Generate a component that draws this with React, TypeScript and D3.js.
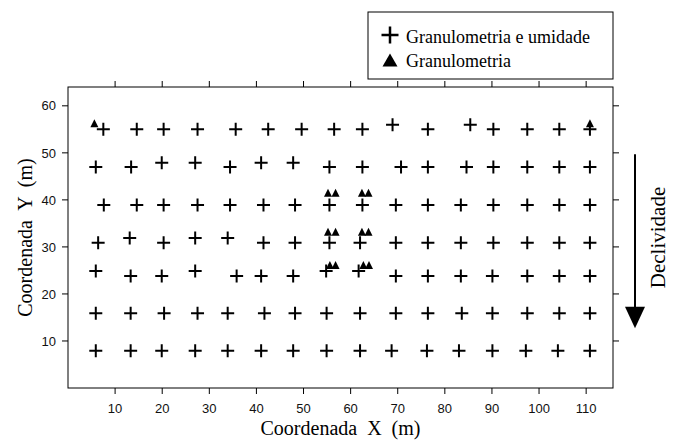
import React from "react";
import * as d3 from "d3";

// Data: points sampled for "Granulometria e umidade" (crosses)
const crossX: number[] = [
  7.5, 14.6, 20.3, 27.5, 35.6, 42.5, 49.6, 56.5, 62.5, 68.9, 76.4, 85.4, 90.3, 97.5, 104.3, 110.8,
  5.9, 13.4, 19.9, 27.0, 34.4, 41.0, 47.8, 55.5, 62.5, 70.7, 76.4, 84.6, 90.3, 97.5, 104.3, 110.8,
  7.6, 14.6, 20.3, 27.5, 34.4, 41.5, 48.2, 55.5, 62.5, 69.6, 76.4, 83.4, 90.3, 97.5, 104.3, 110.8,
  6.4, 13.1, 20.3, 27.0, 33.9, 41.5, 48.2, 55.5, 62.0, 69.6, 76.4, 83.4, 90.3, 97.5, 104.3, 110.8,
  5.9, 13.3, 19.9, 27.0, 35.8, 41.0, 47.8, 54.8, 61.7, 69.6, 76.4, 83.4, 90.1, 97.5, 104.3, 110.8,
  5.9, 13.3, 20.4, 27.5, 33.9, 41.7, 48.2, 54.9, 62.0, 69.6, 76.4, 83.6, 90.1, 97.5, 104.3, 110.8,
  5.9, 13.3, 19.9, 27.0, 33.9, 41.0, 47.8, 54.9, 62.0, 68.7, 76.2, 83.0, 90.1, 97.2, 104.0, 110.8,
];
const crossY: number[] = [
  55.0, 55.0, 55.0, 55.0, 55.0, 55.0, 55.0, 55.0, 55.0, 56.0, 55.0, 56.0, 55.0, 55.0, 55.0, 55.0,
  47.0, 47.0, 47.9, 47.9, 47.0, 47.9, 47.9, 47.0, 47.0, 47.0, 47.0, 47.0, 47.0, 47.0, 47.0, 47.0,
  38.9, 38.9, 38.9, 38.9, 38.9, 38.9, 38.9, 38.9, 38.9, 38.9, 38.9, 38.9, 38.9, 38.9, 38.9, 38.9,
  30.9, 31.9, 30.9, 31.9, 31.9, 30.9, 30.9, 30.9, 30.9, 30.9, 30.9, 30.9, 30.9, 30.9, 30.9, 30.9,
  24.9, 23.8, 23.8, 24.9, 23.8, 23.8, 23.8, 24.9, 24.9, 23.8, 23.8, 23.8, 23.8, 23.8, 23.8, 23.8,
  15.9, 15.9, 15.9, 15.9, 15.9, 15.9, 15.9, 15.9, 15.9, 15.9, 15.9, 15.9, 15.9, 15.9, 15.9, 15.9,
  7.9, 7.9, 7.9, 7.9, 7.9, 7.9, 7.9, 7.9, 7.9, 7.9, 7.9, 7.9, 7.9, 7.9, 7.9, 7.9,
];

// Data: points sampled for "Granulometria" only (triangles)
const triX: number[] = [5.6, 110.8, 55.2, 56.8, 62.4, 63.8, 55.2, 56.8, 62.4, 63.8, 55.6, 56.8, 62.7, 63.9];
const triY: number[] = [56.3, 56.3, 41.5, 41.5, 41.5, 41.5, 33.2, 33.2, 33.2, 33.2, 26.15, 26.15, 26.15, 26.15];

const xTicks: number[] = [10, 20, 30, 40, 50, 60, 70, 80, 90, 100, 110];
const yTicks: number[] = [10, 20, 30, 40, 50, 60];

const legendLabels: string[] = ["Granulometria e umidade", "Granulometria"];
const xLabel = "Coordenada  X  (m)";
const yLabel = "Coordenada  Y  (m)";
const slopeLabel = "Declividade";

const W = 679;
const H = 440;
const L = 68, R = 613, T = 87, B = 388;
const SERIF = "'Liberation Serif', 'Times New Roman', serif";
const SANS = "'Liberation Sans', Arial, sans-serif";

export default function App() {
  const x = d3.scaleLinear().domain([0, 115.7]).range([L, R]);
  const y = d3.scaleLinear().domain([0, 64]).range([B, T]);
  const tk = 6;
  const arm = 6.5;
  const tw = 8, th = 8;

  const triPath = (cx: number, cy: number, w: number, h: number) =>
    `M${cx},${cy - h / 2}L${cx + w / 2},${cy + h / 2}L${cx - w / 2},${cy + h / 2}Z`;

  return (
    <svg width={W} height={H} style={{ position: "absolute", left: 0, top: 0, background: "#fff" }}>
      <rect x={0} y={0} width={W} height={H} fill="#fff" />
      {/* frame */}
      <rect x={L} y={T} width={R - L} height={B - T} fill="none" stroke="#000" strokeWidth={1} />
      {/* x ticks bottom & top */}
      {xTicks.map((t) => (
        <g key={"xt" + t}>
          <line x1={x(t)} x2={x(t)} y1={B} y2={B + tk} stroke="#000" />
          <line x1={x(t)} x2={x(t)} y1={T} y2={T - tk} stroke="#000" />
          <text x={x(t)} y={B + 25} textAnchor="middle" fontFamily={SANS} fontSize={13} fill="#111">
            {t}
          </text>
        </g>
      ))}
      {/* y ticks left & right */}
      {yTicks.map((t) => (
        <g key={"yt" + t}>
          <line x1={L} x2={L - tk} y1={y(t)} y2={y(t)} stroke="#000" />
          <line x1={R} x2={R + tk} y1={y(t)} y2={y(t)} stroke="#000" />
          <text x={56} y={y(t)} dy="0.36em" textAnchor="end" fontFamily={SANS} fontSize={13} fill="#111">
            {t}
          </text>
        </g>
      ))}
      {/* axis titles */}
      <text x={(L + R) / 2} y={435} textAnchor="middle" fontFamily={SERIF} fontSize={20} style={{ whiteSpace: "pre" }}>
        {xLabel}
      </text>
      <text
        transform={`translate(32,${(T + B) / 2}) rotate(-90)`}
        textAnchor="middle"
        fontFamily={SERIF}
        fontSize={20}
        style={{ whiteSpace: "pre" }}
      >
        {yLabel}
      </text>
      {/* crosses */}
      {crossX.map((v, i) => {
        const cx = x(v), cy = y(crossY[i]);
        return (
          <path
            key={"c" + i}
            d={`M${cx - arm},${cy}H${cx + arm}M${cx},${cy - arm}V${cy + arm}`}
            stroke="#000"
            strokeWidth={2}
            fill="none"
          />
        );
      })}
      {/* triangles */}
      {triX.map((v, i) => (
        <path key={"t" + i} d={triPath(x(v), y(triY[i]), tw, th)} fill="#000" />
      ))}
      {/* slope arrow */}
      <line x1={635} x2={635} y1={y(49.7)} y2={y(17)} stroke="#000" strokeWidth={2} />
      <path d={triPath(635, (y(17.3) + y(12.7)) / 2, 20, y(12.7) - y(17.3))} fill="#000" transform={`rotate(180,635,${(y(17.3) + y(12.7)) / 2})`} />
      <text
        transform={`translate(665,${(T + B) / 2}) rotate(-90)`}
        textAnchor="middle"
        fontFamily={SERIF}
        fontSize={21}
      >
        {slopeLabel}
      </text>
      {/* legend */}
      <rect x={368} y={12} width={R - 368} height={67} fill="#fff" stroke="#000" strokeWidth={1} />
      <path d="M381.5,35H398.5M390,26.5V43.5" stroke="#000" strokeWidth={2.5} />
      <path d={triPath(390, 60, 15, 13)} fill="#000" />
      <text x={406} y={43} fontFamily={SERIF} fontSize={18}>
        {legendLabels[0]}
      </text>
      <text x={406} y={67} fontFamily={SERIF} fontSize={18}>
        {legendLabels[1]}
      </text>
    </svg>
  );
}
